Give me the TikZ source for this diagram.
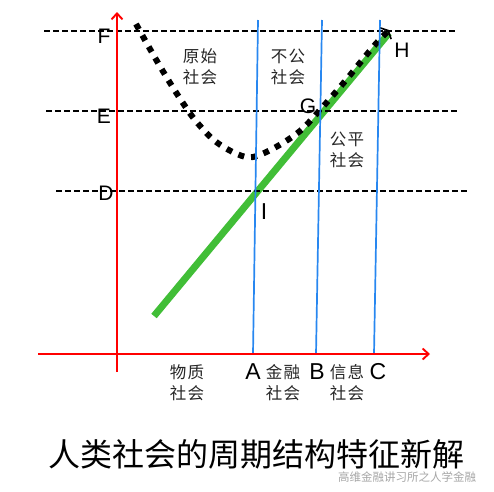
\documentclass[tikz,border=0pt]{standalone}
\usepackage{fontspec}
\setmainfont{Liberation Sans}
\newfontfamily\cjk{Noto Sans CJK SC}
\usetikzlibrary{arrows.meta, calc}

\definecolor{axisred}{RGB}{255,0,0}
\definecolor{eraBlue}{RGB}{40,135,240}
\definecolor{trendGreen}{RGB}{65,190,55}

\tikzset{
  guide/.style={draw=black, line width=1.7pt, dash pattern=on 6pt off 3pt},
  era/.style={draw=eraBlue, line width=1.7pt},
  axis/.style={draw=axisred, line width=1.9pt, -{Straight Barb[length=6pt,width=11pt]}},
  letter/.style={font=\fontsize{21}{21}\selectfont, inner sep=0pt},
  bigletter/.style={font=\fontsize{23}{23}\selectfont, inner sep=0pt},
  stage/.style={font=\cjk\fontsize{16.5}{21}\selectfont, align=center, inner sep=0pt, text=black!85},
}

\begin{document}
\begin{tikzpicture}[x=1pt, y=-1pt]
  \useasboundingbox (0,0) rectangle (494,491);

  \coordinate (trendL) at (154,316);
  \coordinate (trendR) at (389,33);
  \draw[draw=trendGreen, line width=7pt] (trendL) -- (trendR);

  \draw[line width=6pt, dash pattern=on 6pt off 7pt, -{Straight Barb[length=4pt,width=16pt,line width=1.6pt]}]
    plot[smooth, tension=0.55] coordinates {(136,24) (150,49) (164,73) (179,97) (195,120) (215,141)
      (237,154) (253,157) (276,147) (300,131) (320,110) (346,80) (373,47) (389,30)};

  \coordinate (fL) at (44,31);   \coordinate (fR) at (457,31);
  \coordinate (eL) at (46,111);  \coordinate (eR) at (458,111);
  \coordinate (dL) at (56,191);  \coordinate (dR) at (467,191);
  \draw[guide] (fL) -- (fR);
  \draw[guide] (eL) -- (eR);
  \draw[guide] (dL) -- (dR);

  \coordinate (aTop) at (258,20); \coordinate (aBot) at (253,354);
  \coordinate (bTop) at (322,20); \coordinate (bBot) at (316,354);
  \coordinate (cTop) at (380,20); \coordinate (cBot) at (374,354);
  \draw[era] (aTop) -- (aBot);
  \draw[era] (bTop) -- (bBot);
  \draw[era] (cTop) -- (cBot);

  \coordinate (yFoot) at (117,372);
  \coordinate (yHead) at (117,12);
  \coordinate (xFoot) at (38,354);
  \coordinate (xHead) at (430,354);
  \draw[axis] (yFoot) -- (yHead);
  \draw[axis] (xFoot) -- (xHead);

  \node[letter] (F) at (104,36) {F};
  \node[letter] (E) at (104,116) {E};
  \node[letter] (D) at (106,193) {D};
  \node[letter] (G) at (308,106) {G};
  \node[letter] (H) at (402,50) {H};
  \node[bigletter] (I) at (264,212) {I};
  \node[bigletter] (A) at (253,372) {A};
  \node[bigletter] (B) at (317,372) {B};
  \node[bigletter] (C) at (378,372) {C};

  \node[stage] (primitive) at (200,67) {原\kern1.5pt 始\\社\kern1.5pt 会};
  \node[stage] (unfair) at (288,67) {不\kern1.5pt 公\\社\kern1.5pt 会};
  \node[stage] (fair) at (347,150) {公\kern1.5pt 平\\社\kern1.5pt 会};
  \node[stage] (material) at (187,383) {物\kern1.5pt 质\\社\kern1.5pt 会};
  \node[stage] (finance) at (283,383) {金\kern1.5pt 融\\社\kern1.5pt 会};
  \node[stage] (information) at (347,383) {信\kern1.5pt 息\\社\kern1.5pt 会};

  \node[font=\cjk\fontsize{32}{32}\selectfont, inner sep=0pt] (title) at (256,454) {人类社会的周期结构特征新解};
  \node[font=\cjk\fontsize{11.5}{11.5}\selectfont, inner sep=0pt, text=gray!70] (mark) at (407,477) {高维金融讲习所之人学金融};
\end{tikzpicture}
\end{document}
